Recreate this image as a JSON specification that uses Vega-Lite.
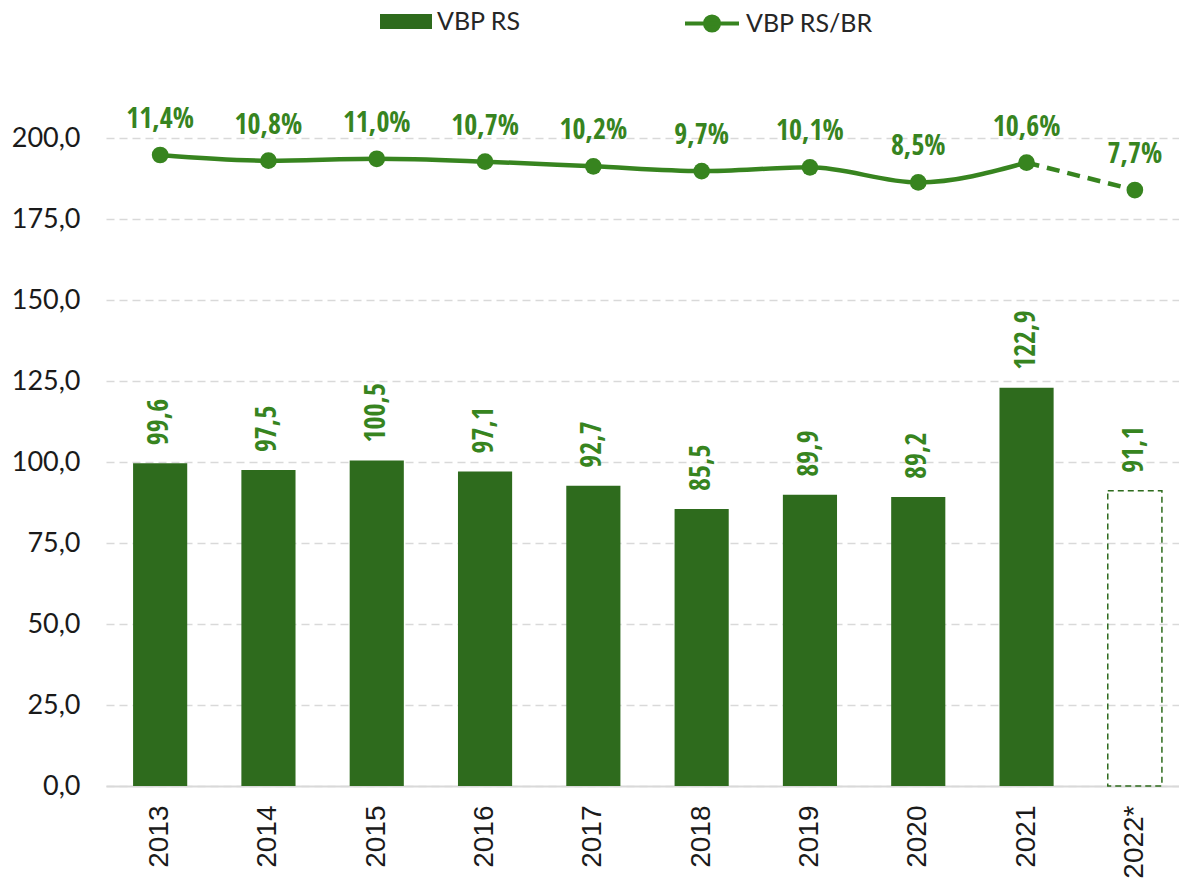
{
  "$schema": "https://vega.github.io/schema/vega-lite/v6.json",
  "autosize": "none",
  "width": 1073,
  "height": 729,
  "padding": {"left": 106, "top": 57, "right": 0, "bottom": 94},
  "background": "white",
  "config": {
    "locale": {"number": {"decimal": ",", "thousands": ".", "grouping": [3], "currency": ["R$", ""]}},
    "view": {"stroke": null},
    "legend": {"padding": 0, "labelFont": "Lato", "labelFontSize": 25, "labelColor": "#262626", "labelOffset": 5, "title": null}
  },
  "data": {
    "values": [
      {"ano": "2013", "vbp": 99.6, "pct": 0.114},
      {"ano": "2014", "vbp": 97.5, "pct": 0.108},
      {"ano": "2015", "vbp": 100.5, "pct": 0.110},
      {"ano": "2016", "vbp": 97.1, "pct": 0.107},
      {"ano": "2017", "vbp": 92.7, "pct": 0.102},
      {"ano": "2018", "vbp": 85.5, "pct": 0.097},
      {"ano": "2019", "vbp": 89.9, "pct": 0.101},
      {"ano": "2020", "vbp": 89.2, "pct": 0.085},
      {"ano": "2021", "vbp": 122.9, "pct": 0.106},
      {"ano": "2022*", "vbp": 91.1, "pct": 0.077}
    ]
  },
  "encoding": {
    "x": {
      "field": "ano", "type": "nominal", "sort": null,
      "scale": {"range": [0, 1083], "paddingInner": 0.5, "paddingOuter": 0.25},
      "axis": {
        "title": null, "labelAngle": -90, "labelFont": "Liberation Sans", "labelFontSize": 28,
        "labelColor": "#1a1a1a", "labelPadding": 19, "ticks": false,
        "domainColor": "#d9d9d9", "domainWidth": 2, "grid": false
      }
    }
  },
  "layer": [
    {
      "encoding": {
        "y": {
          "field": "vbp", "type": "quantitative",
          "scale": {"domain": [0, 225], "nice": false, "zero": true},
          "axis": {
            "title": null, "values": [0, 25, 50, 75, 100, 125, 150, 175, 200], "format": ",.1f",
            "labelFont": "Lato", "labelFontSize": 27, "labelColor": "#1a1a1a", "labelPadding": 26,
            "domain": false, "ticks": false, "grid": true, "gridColor": "#d9d9d9", "gridDash": [8, 5], "gridWidth": 1.5
          }
        }
      },
      "layer": [
        {
          "transform": [{"filter": "datum.ano !== '2022*'"}],
          "mark": {"type": "bar"},
          "encoding": {
            "fill": {
              "datum": "VBP RS",
              "scale": {"domain": ["VBP RS"], "range": ["#2E6B1D"]},
              "legend": {
                "orient": "none", "legendX": 274, "legendY": -61.5,
                "symbolType": "M-1,-0.29H1V0.29H-1Z", "symbolSize": 2704, "symbolStrokeWidth": 0, "symbolOpacity": 1
              }
            }
          }
        },
        {
          "transform": [{"filter": "datum.ano === '2022*'"}],
          "mark": {"type": "bar", "fill": "white", "fillOpacity": 0, "stroke": "#2E6B1D", "strokeWidth": 1.5, "strokeDash": [6, 4]}
        },
        {
          "mark": {"type": "text", "angle": -90, "align": "left", "baseline": "middle", "dx": 18, "font": "Open Sans Condensed, Roboto Condensed, Liberation Sans Narrow, DejaVu Sans Condensed, sans-serif", "fontWeight": "bold", "fontSize": 28, "color": "#37841F"},
          "encoding": {"text": {"field": "vbp", "type": "quantitative", "format": ",.1f"}}
        }
      ]
    },
    {
      "encoding": {
        "y": {
          "field": "pct", "type": "quantitative",
          "scale": {"domain": [-0.553, 0.2176], "nice": false, "zero": false},
          "axis": null
        }
      },
      "layer": [
        {
          "transform": [{"filter": "datum.ano !== '2022*'"}],
          "mark": {"type": "line", "interpolate": "monotone", "strokeWidth": 4.5},
          "encoding": {
            "stroke": {
              "datum": "VBP RS/BR",
              "scale": {"domain": ["VBP RS/BR"], "range": ["#37841F"]},
              "legend": {
                "orient": "none", "legendX": 577, "legendY": -62.5,
                "symbolType": "M-1,0H1M-0.26,0A0.26,0.26,0,1,0,0.26,0A0.26,0.26,0,1,0,-0.26,0Z",
                "symbolSize": 2916, "symbolStrokeWidth": 4, "symbolFillColor": "#37841F", "symbolOpacity": 1
              }
            }
          }
        },
        {
          "transform": [{"filter": "datum.ano === '2021' || datum.ano === '2022*'"}],
          "mark": {"type": "line", "strokeWidth": 4.5, "strokeDash": [13, 8], "color": "#37841F"}
        },
        {
          "mark": {"type": "point", "filled": true, "size": 280, "opacity": 1, "color": "#37841F"}
        },
        {
          "mark": {"type": "text", "align": "center", "baseline": "alphabetic", "dy": -27, "font": "Open Sans Condensed, Roboto Condensed, Liberation Sans Narrow, DejaVu Sans Condensed, sans-serif", "fontWeight": "bold", "fontSize": 28, "color": "#37841F"},
          "encoding": {"text": {"field": "pct", "type": "quantitative", "format": ",.1%"}}
        }
      ]
    }
  ],
  "resolve": {"scale": {"y": "independent"}}
}
